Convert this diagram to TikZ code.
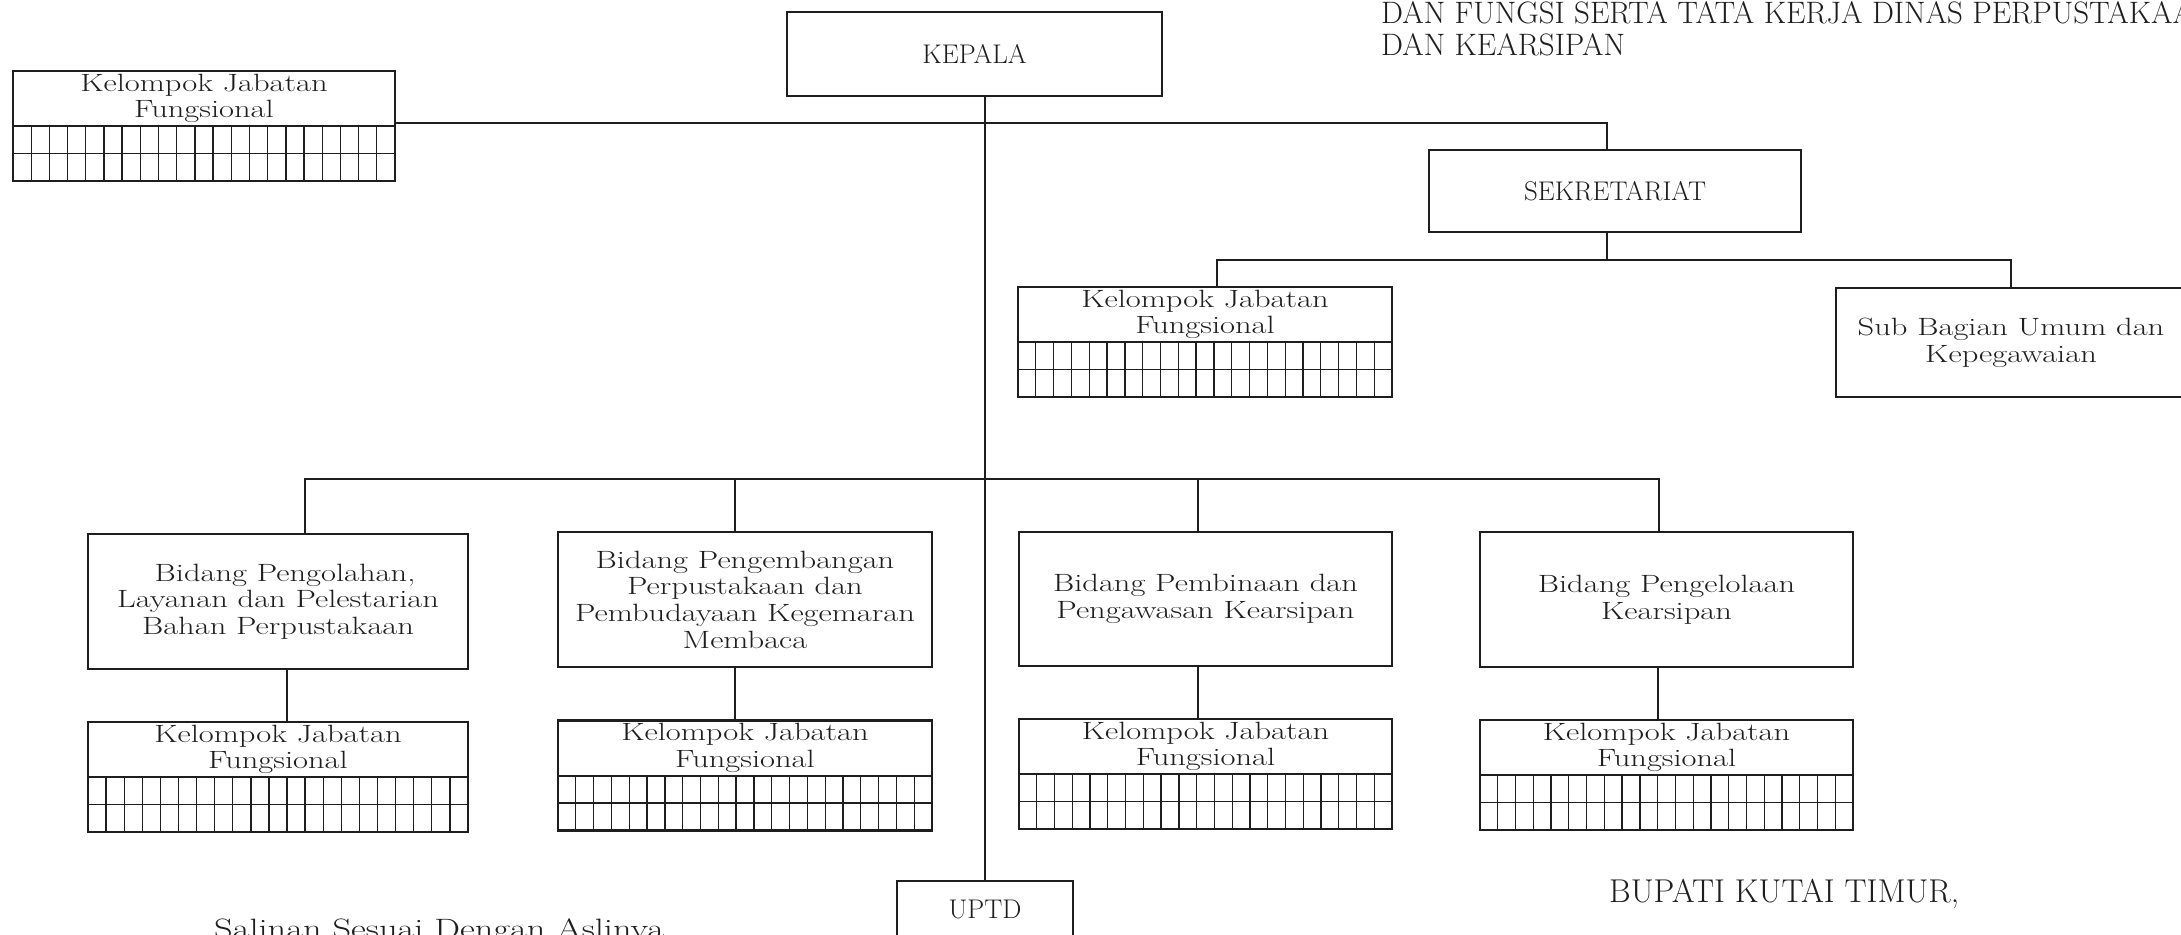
\documentclass[tikz,border=0pt]{standalone}
\usepackage{fontspec}
\setmainfont{Latin Modern Roman}
\newfontfamily\widefont{Latin Modern Roman}[FakeStretch=1.3]
\usetikzlibrary{calc}
\definecolor{ink}{HTML}{1E1E1E}
\tikzset{
  box/.style={draw=ink, line width=2.2pt, inner sep=0pt, outer sep=0pt, fill=white},
  conn/.style={draw=ink, line width=2pt},
  gridln/.style={draw=ink, line width=1.3pt},
  bodytext/.style={font=\widefont\fontsize{25}{26.7}\selectfont, text=ink, align=center},
  capstext/.style={font=\rmfamily\fontsize{27}{30}\selectfont, text=ink},
}
\newcommand\kjbox[4]{%
  \node[box, minimum width=#4pt, minimum height=110pt] (#1) at (#2,#3) {};
  \foreach \i in {1,...,20} {\draw[gridln] ($(#1.west)!\i/21!(#1.east)$) -- ($(#1.south west)!\i/21!(#1.south east)$);}
  \draw[gridln] ($(#1.west)!0.5!(#1.south west)$) -- ($(#1.east)!0.5!(#1.south east)$);
  \draw[conn] (#1.west) -- (#1.east);
  \draw[draw=ink, line width=2.2pt] (#1.north west) rectangle (#1.south east);
  \node[bodytext] (#1t) at ($(#1.north)!0.5!(#1.center)$) {Kelompok Jabatan\\Fungsional};
}
\begin{document}
\begin{tikzpicture}[x=1pt,y=-1pt]
\path[use as bounding box, fill=white] (0,0) rectangle (2181,934);
\clip (0,0) rectangle (2181,934);

% connector coordinates
\coordinate (jt) at (1607,123);
\coordinate (sL) at (1217,260);
\coordinate (sR) at (2011,260);
\coordinate (b1t) at (305,479);
\coordinate (b2t) at (735,479);
\coordinate (b3t) at (1198,479);
\coordinate (b4t) at (1659,479);
\coordinate (b1d) at (287,700);
\coordinate (b2d) at (735,700);
\coordinate (b3d) at (1198,700);
\coordinate (b4d) at (1658,700);

% boxes
\node[box, capstext, minimum width=375pt, minimum height=84pt] (kep) at (974.5,54) {KEPALA};
\node[box, capstext, minimum width=372pt, minimum height=82pt] (sek) at (1615,191) {SEKRETARIAT};
\node[box, bodytext, minimum width=350pt, minimum height=109pt] (sub) at (2011,342.5) {Sub Bagian Umum dan\\Kepegawaian};
\node[box, minimum width=176pt, minimum height=89pt] (uptd) at (985,925.5) {};
\node[capstext] (uptdt) at ($(uptd.north)+(0,28)$) {UPTD};

\node[box, bodytext, minimum width=380pt, minimum height=135pt] (b1) at (278,601.5) {\hspace*{14pt}Bidang Pengolahan,\\Layanan dan Pelestarian\\Bahan Perpustakaan};
\node[box, bodytext, minimum width=374pt, minimum height=135pt] (b2) at (745,599.5) {Bidang Pengembangan\\Perpustakaan dan\\Pembudayaan Kegemaran\\Membaca};
\node[box, bodytext, minimum width=373pt, minimum height=134pt] (b3) at (1205.5,599) {Bidang Pembinaan dan\\Pengawasan Kearsipan};
\node[box, bodytext, minimum width=373pt, minimum height=135pt] (b4) at (1666.5,599.5) {Bidang Pengelolaan\\Kearsipan};

\kjbox{kjA}{204}{126}{382}
\kjbox{kjS}{1205}{342}{374}
\kjbox{k1}{278}{777}{380}
\kjbox{k2}{745}{775.5}{374}
\kjbox{k3}{1205.5}{774}{373}
\kjbox{k4}{1666.5}{775}{373}

% connectors
\draw[conn] (kep.south -| uptd.north) -- (uptd.north);
\draw[conn] (kjA.east |- jt) -- (jt) -- (jt |- sek.north);
\draw[conn] (sek.south -| jt) -- (jt |- sL);
\draw[conn] (sL |- kjS.north) -- (sL) -- (sR) -- (sR |- sub.north);
\draw[conn] (b1t |- b1.north) -- (b1t) -- (b4t) -- (b4t |- b4.north);
\draw[conn] (b2t) -- (b2t |- b2.north);
\draw[conn] (b3t) -- (b3t |- b3.north);
\draw[conn] (b1.south -| b1d) -- (k1.north -| b1d);
\draw[conn] (b2.south -| b2d) -- (k2.north -| b2d);
\draw[conn] (b3.south -| b3d) -- (k3.north -| b3d);
\draw[conn] (b4.south -| b4d) -- (k4.north -| b4d);

% free texts
\node[anchor=base west, inner sep=0pt, text=ink, font=\rmfamily\fontsize{31}{34}\selectfont] (title1) at (1381,24) {DAN FUNGSI SERTA TATA KERJA DINAS PERPUSTAKAAN};
\node[anchor=base west, inner sep=0pt, text=ink, font=\rmfamily\fontsize{31}{34}\selectfont] (title2) at (1381,56) {DAN KEARSIPAN};
\node[anchor=base west, inner sep=0pt, text=ink, font=\rmfamily\fontsize{33}{36}\selectfont] (bupati) at (1609,902) {BUPATI KUTAI TIMUR,};
\node[anchor=base west, inner sep=0pt, text=ink, font=\widefont\fontsize{28}{32}\selectfont] (salinan) at (214,938) {Salinan Sesuai Dengan Aslinya};
\end{tikzpicture}
\end{document}
